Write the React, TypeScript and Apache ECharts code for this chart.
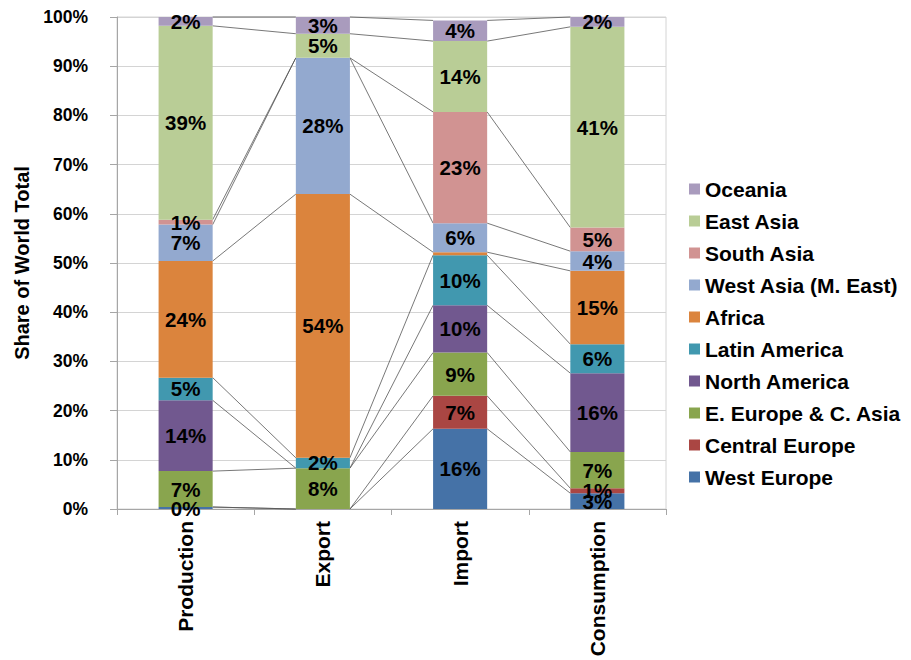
import React, { useEffect, useRef } from "react";
import * as echarts from "echarts";

const categories = ["Production", "Export", "Import", "Consumption"];
const seriesNames = [
  "West Europe",
  "Central Europe",
  "E. Europe & C. Asia",
  "North America",
  "Latin America",
  "Africa",
  "West Asia (M. East)",
  "South Asia",
  "East Asia",
  "Oceania",
];
const westEurope = [0.4, null, 16.3, 3.2];
const centralEurope = [null, null, 6.7, 1.0];
const eEurope = [7.3, 8.3, 8.8, 7.4];
const northAmerica = [14.4, null, 9.6, 16.0];
const latinAmerica = [4.6, 2.1, 10.2, 5.9];
const africa = [23.7, 53.6, 0.6, 14.9];
const westAsia = [7.4, 27.7, 5.9, 4.0];
const southAsia = [1.0, null, 22.6, 4.8];
const eastAsia = [39.4, 4.9, 14.4, 40.8];
const oceania = [1.8, 3.4, 4.2, 2.0];
const seriesValues = [
  westEurope,
  centralEurope,
  eEurope,
  northAmerica,
  latinAmerica,
  africa,
  westAsia,
  southAsia,
  eastAsia,
  oceania,
];
const hiddenLabels = [["Africa", "Import"]];
const yTicks = [0, 10, 20, 30, 40, 50, 60, 70, 80, 90, 100];

const colors = [
  "#4572A7",
  "#AA4643",
  "#89A54E",
  "#71588F",
  "#4198AF",
  "#DB843D",
  "#93A9CF",
  "#D19392",
  "#B9CD96",
  "#A99BBD",
];

const FONT = '"Liberation Sans", Arial, sans-serif';
const BAR_FRAC = 0.394;

export default function App() {
  const ref = useRef<HTMLDivElement>(null);
  useEffect(() => {
    document.body.style.margin = "0";
    if (!ref.current) return;
    const chart = echarts.init(ref.current, undefined, { renderer: "svg" });

    const tops: number[][] = [];
    const running = categories.map(() => 0);
    seriesValues.forEach((vals) => {
      const t: number[] = [];
      vals.forEach((v, i) => {
        running[i] += v == null ? 0 : v;
        t.push(running[i]);
      });
      tops.push(t);
    });
    const lineData: number[][] = [];
    tops.forEach((t) => {
      for (let i = 0; i < categories.length - 1; i++) {
        lineData.push([i, t[i], t[i + 1]]);
      }
    });

    const barSeries = seriesNames.map((name, s) => ({
      name,
      type: "bar",
      stack: "total",
      barWidth: BAR_FRAC * 100 + "%",
      itemStyle: { color: colors[s] },
      label: {
        show: true,
        position: "inside",
        color: "#000",
        fontFamily: FONT,
        fontWeight: "bold",
        fontSize: 20.5,
        formatter: (p: any) => Math.round(p.value) + "%",
      },
      data: seriesValues[s].map((v, i) => {
        const hide = hiddenLabels.some(
          (h) => h[0] === name && h[1] === categories[i]
        );
        return hide ? { value: v, label: { show: false } } : v;
      }),
    }));

    chart.setOption({
      animation: false,
      color: colors,
      grid: {
        left: 117,
        right: 245,
        top: 17,
        bottom: 151,
        show: true,
        borderColor: "#d4d4d4",
        borderWidth: 1,
      },
      legend: {
        orient: "vertical",
        left: 689,
        top: 178,
        padding: 0,
        itemWidth: 11,
        itemHeight: 11,
        itemGap: 10,
        icon: "rect",
        data: [...seriesNames].reverse(),
        textStyle: {
          fontFamily: FONT,
          fontWeight: "bold",
          fontSize: 21,
          color: "#000",
          lineHeight: 22,
        },
      },
      xAxis: {
        type: "category",
        data: categories,
        boundaryGap: true,
        axisLine: { lineStyle: { color: "#a6a6a6" } },
        axisTick: { show: true, length: 6, lineStyle: { color: "#a6a6a6" } },
        axisLabel: {
          rotate: 90,
          margin: 12,
          color: "#000",
          fontFamily: FONT,
          fontWeight: "bold",
          fontSize: 21,
        },
      },
      yAxis: {
        type: "value",
        min: yTicks[0],
        max: yTicks[yTicks.length - 1],
        interval: yTicks[1] - yTicks[0],
        name: "Share of World Total",
        nameLocation: "middle",
        nameGap: 83,
        nameTextStyle: {
          fontFamily: FONT,
          fontWeight: "bold",
          fontSize: 20,
          color: "#000",
        },
        axisLine: { show: true, lineStyle: { color: "#a6a6a6" } },
        axisTick: { show: true, length: 7, lineStyle: { color: "#a6a6a6" } },
        splitLine: { lineStyle: { color: "#d4d4d4" } },
        axisLabel: {
          margin: 29,
          color: "#000",
          fontFamily: FONT,
          fontWeight: "bold",
          fontSize: 17.5,
          formatter: "{value}%",
        },
      },
      series: [
        ...barSeries,
        {
          type: "custom",
          silent: true,
          z: 1,
          encode: { x: 0, y: [1, 2] },
          renderItem: (params: any, api: any) => {
            const i = api.value(0);
            const p1 = api.coord([i, api.value(1)]);
            const p2 = api.coord([i + 1, api.value(2)]);
            const half = (api.size([1, 0])[0] * BAR_FRAC) / 2;
            return {
              type: "line",
              shape: {
                x1: p1[0] + half,
                y1: p1[1],
                x2: p2[0] - half,
                y2: p2[1],
              },
              style: { stroke: "#555", lineWidth: 0.8 },
            };
          },
          data: lineData,
        },
      ],
    });
    return () => chart.dispose();
  }, []);
  return <div ref={ref} style={{ width: 911, height: 660 }} />;
}
